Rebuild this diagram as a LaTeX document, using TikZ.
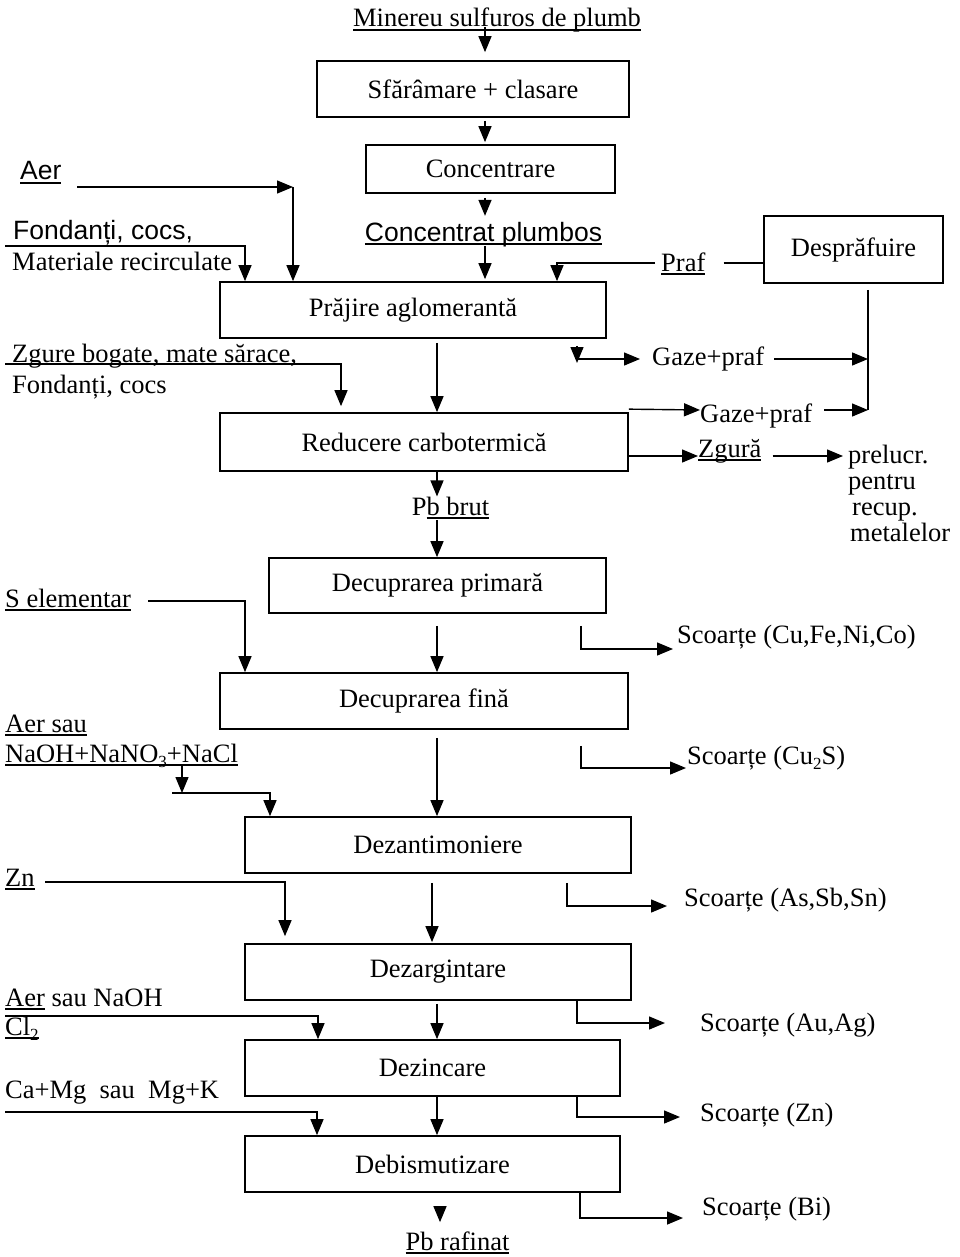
\documentclass[tikz,border=0pt]{standalone}
\usepackage{fontspec}
\setmainfont{Liberation Serif}
\newfontfamily\arialfam{Liberation Sans}
\usetikzlibrary{arrows.meta}
\newcommand{\fsz}{\fontsize{26.5pt}{32pt}\selectfont}
% underline set a fixed distance below the baseline
\newsavebox{\ulbox}
\newcommand{\ulx}[1]{\sbox{\ulbox}{#1}\rlap{\rule[-3.6pt]{\wd\ulbox}{1.2pt}}\usebox{\ulbox}}
% chemical subscript, set low
\newcommand{\chemsub}[1]{\raisebox{-5pt}{\fontsize{17pt}{20pt}\selectfont #1}}
\begin{document}
\begin{tikzpicture}[x=1pt,y=-1pt,
  proc/.style={draw, line width=1.7pt, inner sep=0pt, font=\fsz},
  lbl/.style={inner sep=0pt, font=\fsz, anchor=base west},
  lblc/.style={inner sep=0pt, font=\fsz, anchor=base},
  sans/.style={font=\arialfam\fsz},
  flow/.style={line width=1.4pt, -{Triangle[length=16pt,width=13pt]}},
  wire/.style={line width=1.4pt},
]
\useasboundingbox (0,0) rectangle (960,1257);

% process boxes
\node[proc, minimum width=312pt, minimum height=56pt] (b1) at (473,89) {Sfărâmare + clasare};
\node[proc, minimum width=249pt, minimum height=48pt] (b2) at (490.5,169) {Concentrare};
\node[proc, minimum width=386pt, minimum height=56pt] (b3) at (413,310) {Prăjire aglomerantă};
\node[proc, minimum width=179pt, minimum height=67pt] (bd) at (853.5,249.5) {Desprăfuire};
\node[proc, minimum width=408pt, minimum height=58pt] (b4) at (424,442) {Reducere carbotermică};
\node[proc, minimum width=337pt, minimum height=55pt] (b5) at (437.5,585.5) {Decuprarea primară};
\node[proc, minimum width=408pt, minimum height=56pt] (b6) at (424,701) {Decuprarea fină};
\node[proc, minimum width=386pt, minimum height=56pt] (b7) at (438,845) {Dezantimoniere};
\node[proc, minimum width=386pt, minimum height=56pt] (b8) at (438,972) {Dezargintare};
\node[proc, minimum width=375pt, minimum height=56pt] (b9) at (432.5,1068) {Dezincare};
\node[proc, minimum width=375pt, minimum height=56pt] (b10) at (432.5,1164) {Debismutizare};

% feed and product labels
\node[lblc] (ore) at (497,27) {\ulx{Minereu sulfuros de plumb}};
\node[lbl, sans] (aer1) at (20,180) {\ulx{Aer}};
\node[lbl, sans] (fond1) at (13,240) {Fondanți, cocs,};
\node[lbl] (mat) at (12,270) {Materiale recirculate};
\node[lblc, sans] (conc) at (483.5,241) {\ulx{Concentrat plumbos}};
\node[lbl] (praf) at (661,271) {\ulx{Praf}};
\node[lbl] (gp1) at (652,365) {Gaze+praf};
\node[lbl] (zgb) at (12,362) {Zgure bogate, mate sărace,};
\node[lbl] (fond2) at (12,393) {Fondanți, cocs};
\node[lbl] (gp2) at (700,422) {Gaze+praf};
\node[lbl] (zg) at (698,457) {\ulx{Zgură}};
\node[lbl] (pre) at (848,463) {prelucr.};
\node[lbl] (pen) at (848,489) {pentru};
\node[lbl] (rec) at (852,515) {recup.};
\node[lbl] (met) at (850,541) {metalelor};
\node[lblc] (pbb) at (450.5,515) {P\ulx{b brut}};
\node[lbl] (sel) at (5,607) {\ulx{S elementar}};
\node[lbl] (sc1) at (677,643) {Scoarțe (Cu,Fe,Ni,Co)};
\node[lbl] (aer2) at (5,732) {\ulx{Aer sau}};
\node[lbl] (naoh) at (5,762) {\ulx{NaOH+NaNO\chemsub{3}+NaCl}};
\node[lbl] (sc2) at (687,764) {Scoarțe (Cu\chemsub{2}S)};
\node[lbl] (zn) at (5,886) {\ulx{Zn}};
\node[lbl] (sc3) at (684,906) {Scoarțe (As,Sb,Sn)};
\node[lbl] (aer3) at (5,1006) {\ulx{Aer} sau NaOH};
\node[lbl] (cl) at (5,1035) {\ulx{Cl\chemsub{2}}};
\node[lbl] (sc4) at (700,1031) {Scoarțe (Au,Ag)};
\node[lbl] (camg) at (5,1098) {Ca+Mg\ \ sau\ \ Mg+K};
\node[lbl] (sc5) at (700,1121) {Scoarțe (Zn)};
\node[lbl] (sc6) at (702,1215) {Scoarțe (Bi)};
\node[lblc] (pbr) at (457.5,1250) {\ulx{Pb rafinat}};

% connector columns and bends
\coordinate (xa) at (485,0);
\coordinate (xm) at (437,0);
\coordinate (xk) at (432,0);
\coordinate (xr) at (440,0);
\coordinate (aerS) at (77,187);
\coordinate (aerC) at (293,187);
\coordinate (fS) at (5,246);
\coordinate (fC) at (245,246);
\coordinate (pC) at (557,263);
\coordinate (dx) at (868,410);
\coordinate (g1) at (577,359);
\coordinate (zS) at (5,364);
\coordinate (zC) at (341,364);
\coordinate (zgl) at (0,456);
\coordinate (sC) at (245,601);
\coordinate (c1) at (581,649);
\coordinate (nC) at (182,793);
\coordinate (nL) at (172,793);
\coordinate (nR) at (270,793);
\coordinate (c2) at (581,768);
\coordinate (znL) at (45,882);
\coordinate (znC) at (285,882);
\coordinate (c3) at (567,906);
\coordinate (a3L) at (5,1016);
\coordinate (a3C) at (318,1016);
\coordinate (c4) at (577,1023);
\coordinate (cmL) at (5,1112);
\coordinate (cmC) at (317,1112);
\coordinate (c5) at (577,1117);
\coordinate (c6) at (580,1218);

% ore preparation
\draw[flow, shorten >=8pt] (ore.base -| xa) -- (b1.north -| xa);
\draw[flow, shorten <=3pt, shorten >=2pt] (b1.south -| xa) -- (b2.north -| xa);
\draw[flow, shorten <=4pt] (b2.south -| xa) -- ++(0,22);
\draw[flow, shorten <=5pt, shorten >=2pt] (conc.base -| xa) -- (b3.north -| xa);

% sinter roasting inputs
\draw[flow] (aerS) -- (aerC);
\draw[flow] (aerC) -- (b3.north -| aerC);
\draw[flow] (fS) -- (fC) -- (b3.north -| fC);
\draw[flow] ([xshift=-6pt]praf.west |- pC) -- (pC) -- (b3.north -| pC);
\draw[wire] ([xshift=18pt]praf.east |- pC) -- (bd.west |- pC);
\draw[wire, shorten <=6pt] (bd.south -| dx) -- (dx);

% gases to dedusting
\draw[flow, shorten <=7pt] (b3.south -| g1) -- ([yshift=-4pt]g1);
\draw[flow] (g1) -- ([xshift=-12pt]gp1.west |- g1);
\draw[flow] ([xshift=10pt]gp1.east |- g1) -- (dx |- g1);
\draw[flow] ([yshift=3pt]b4.north east) -- (gp2.west |- dx);
\draw[flow] ([xshift=12pt]gp2.east |- dx) -- (dx);

% carbothermic reduction
\draw[flow, shorten <=4pt] (b3.south -| xm) -- (b4.north -| xm);
\draw[flow, shorten >=6pt] (zS) -- (zC) -- (b4.north -| zC);
\draw[flow] (b4.east |- zgl) -- (zg.west |- zgl);
\draw[flow] ([xshift=11pt]zg.east |- zgl) -- ([xshift=-5pt]pre.west |- zgl);
\draw[flow] (b4.south -| xm) -- (pbb.north -| xm);
\draw[flow] ([yshift=-5pt]pbb.base -| xm) -- (b5.north -| xm);

% refining sequence
\draw[flow] ([xshift=17pt]sel.east |- sC) -- (sC) -- (b6.north -| sC);
\draw[flow, shorten <=12pt] (b5.south -| xm) -- (b6.north -| xm);
\draw[flow, shorten <=12pt] (b5.south -| c1) -- (c1) -- ([xshift=-4pt]sc1.west |- c1);

\draw[flow] ([yshift=-3pt]naoh.base -| nC) -- (nC);
\draw[flow] (nL) -- (nR) -- (b7.north -| nR);
\draw[flow, shorten <=8pt] (b6.south -| xm) -- (b7.north -| xm);
\draw[flow, shorten <=16pt] (b6.south -| c2) -- (c2) -- ([xshift=-1pt]sc2.west |- c2);

\draw[flow, shorten >=7pt] (znL) -- (znC) -- (b8.north -| znC);
\draw[flow, shorten <=9pt, shorten >=1pt] (b7.south -| xk) -- (b8.north -| xk);
\draw[flow, shorten <=9pt] (b7.south -| c3) -- (c3) -- ([xshift=-17pt]sc3.west |- c3);

\draw[flow] (a3L) -- (a3C) -- (b9.north -| a3C);
\draw[flow, shorten <=3pt] (b8.south -| xm) -- (b9.north -| xm);
\draw[flow] (b8.south -| c4) -- (c4) -- ([xshift=-35pt]sc4.west |- c4);

\draw[flow] (cmL) -- (cmC) -- (b10.north -| cmC);
\draw[flow] (b9.south -| xm) -- (b10.north -| xm);
\draw[flow] (b9.south -| c5) -- (c5) -- ([xshift=-20pt]sc5.west |- c5);

\draw[flow, shorten <=16pt, shorten >=9pt] (b10.south -| xr) -- (pbr.north -| xr);
\draw[flow] (b10.south -| c6) -- (c6) -- ([xshift=-19pt]sc6.west |- c6);
\end{tikzpicture}
\end{document}
